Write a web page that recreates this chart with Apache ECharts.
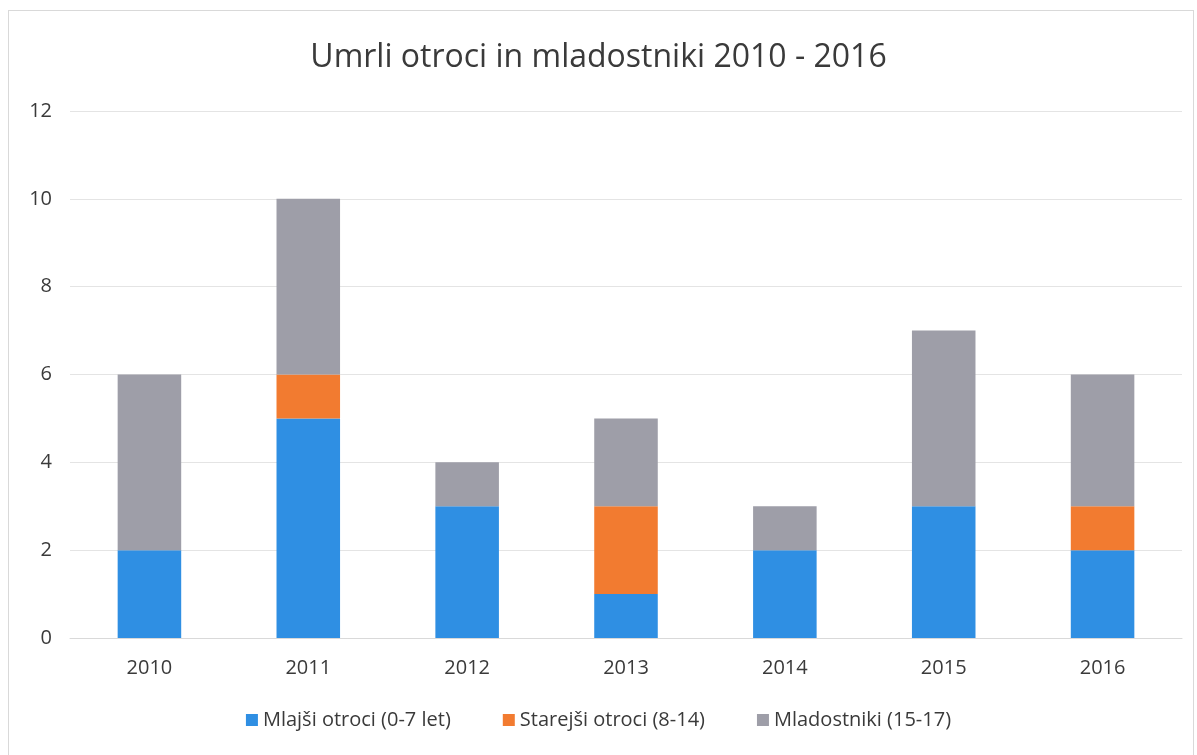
<!DOCTYPE html>
<html><head><meta charset="utf-8">
<script src="https://cdn.jsdelivr.net/npm/echarts@6/dist/echarts.min.js"></script>
<style>
html,body{margin:0;padding:0;background:#fff;}
#c{position:absolute;left:0;top:0;width:1197px;height:755px;}
#frame{position:absolute;left:8px;top:10px;width:1186px;height:745px;border:1px solid #d9d9d9;border-bottom:none;box-sizing:border-box;pointer-events:none;}
</style></head>
<body>
<div id="c"></div><div id="frame"></div>
<script>
const categories = ['2010','2011','2012','2013','2014','2015','2016'];
const mlajsi = [2,5,3,1,2,3,2];
const starejsi = [0,1,0,2,0,0,1];
const mladostniki = [4,4,1,2,1,4,3];
const seriesNames = ['Mlajši otroci (0-7 let)','Starejši otroci (8-14)','Mladostniki (15-17)'];
const titleText = 'Umrli otroci in mladostniki 2010 - 2016';

const font = '"Open Sans", "Noto Sans", sans-serif';
const chart = echarts.init(document.getElementById('c'), null, {renderer:'canvas'});
const colors = ['#2f8fe3','#f27b30','#9e9ea8'];
chart.setOption({
  animation:false,
  title:{text:titleText,left:'center',top:37,textStyle:{fontFamily:font,fontSize:32,fontWeight:'normal',color:'#3a3a3a'}},
  legend:{bottom:20,left:'center',itemWidth:12,itemHeight:12,itemGap:52,icon:'rect',
    textStyle:{fontFamily:font,fontSize:20,color:'#3a3a3a'}},
  grid:{left:70,right:15,top:111,bottom:117},
  xAxis:{type:'category',data:categories,axisTick:{show:false},
    axisLine:{lineStyle:{color:'#d9d9d9'}},
    axisLabel:{fontFamily:font,fontSize:20,color:'#3a3a3a',margin:20}},
  yAxis:{type:'value',min:0,max:12,interval:2,
    axisLabel:{fontFamily:font,fontSize:20,color:'#3a3a3a',margin:18},
    splitLine:{lineStyle:{color:'#e4e4e4'}}},
  series:[
    {name:seriesNames[0],type:'bar',stack:'a',data:mlajsi,barWidth:'40%',itemStyle:{color:colors[0]}},
    {name:seriesNames[1],type:'bar',stack:'a',data:starejsi,itemStyle:{color:colors[1]}},
    {name:seriesNames[2],type:'bar',stack:'a',data:mladostniki,itemStyle:{color:colors[2]}}
  ]
});
</script>
</body></html>
